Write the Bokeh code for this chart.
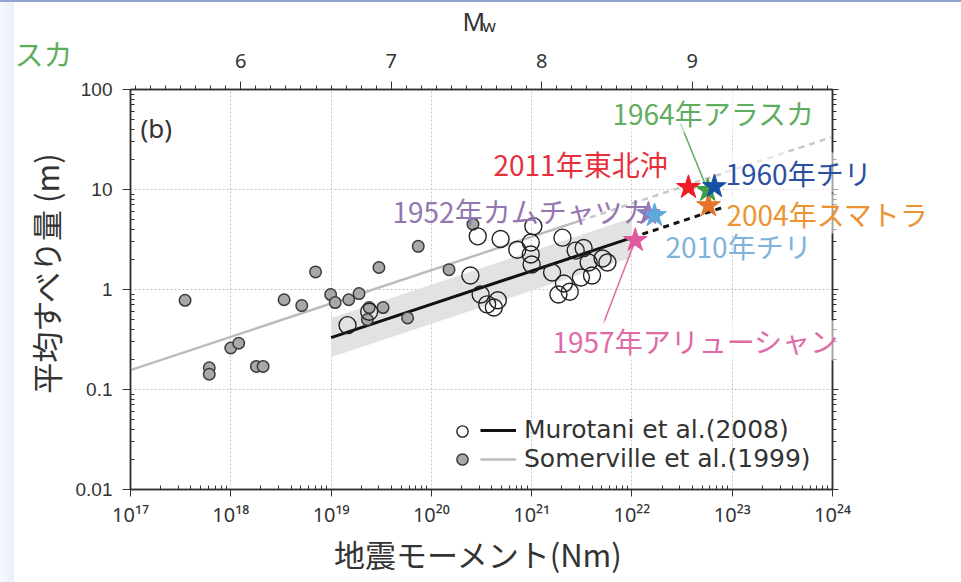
import math
from bokeh.plotting import figure
from bokeh.models import (LogAxis, LinearAxis, Range1d, LinearScale, SingleIntervalTicker,
                          FixedTicker, Label, Legend, LegendItem, Div, CustomJSTickFormatter)
from bokeh.layouts import row, column
from bokeh.embed import file_html
from bokeh.resources import INLINE

JP = "Noto Sans CJK JP"
LAT = "Noto Sans"
INK = "#333333"

# Somerville et al. (1999): seismic moment (N m) and average slip (m)
som_m0 = [3.5e17, 6.1e17, 6.1e17, 1.0e18, 1.2e18, 1.8e18, 2.1e18, 3.4e18, 5.1e18, 7.0e18,
          9.9e18, 1.1e19, 1.5e19, 1.9e19, 2.4e19, 2.3e19, 3.3e19, 3.0e19, 5.8e19, 7.4e19,
          1.5e20, 2.6e20]
som_slip = [0.78, 0.165, 0.142, 0.26, 0.29, 0.17, 0.17, 0.79, 0.69, 1.5,
            0.89, 0.74, 0.79, 0.91, 0.66, 0.50, 0.66, 1.66, 0.52, 2.7,
            1.58, 4.5]

# Murotani et al. (2008): seismic moment (N m) and average slip (m)
mur_m0 = [1.46e19, 2.4e19, 2.45e20, 2.9e20, 4.9e20, 7.2e20, 9.8e20, 9.8e20, 1.04e21, 1.0e21,
          2.03e21, 1.6e21, 3.1e20, 3.6e20, 4.2e20, 4.6e20, 1.85e21, 2.4e21, 2.1e21, 3.1e21,
          2.75e21, 3.3e21, 3.7e21, 4.0e21, 5.1e21, 5.7e21]
mur_slip = [0.44, 0.60, 1.38, 3.4, 3.2, 2.5, 2.95, 2.24, 4.3, 1.78,
            3.3, 1.48, 0.89, 0.71, 0.66, 0.78, 0.89, 0.95, 1.15, 1.32,
            2.45, 2.6, 1.86, 1.38, 2.04, 1.86]

# scaling relations (end points of straight lines in log-log space)
mur_fit_m0 = [1e19, 1e22]
mur_fit_slip = [0.33, 3.3]
mur_band_low = [0.21, 2.1]
mur_band_high = [0.52, 5.2]
mur_ext_m0 = [1e22, 8e22]
mur_ext_slip = [3.3, 6.6]
som_fit_m0 = [1e17, 3e21]
som_fit_slip = [0.156, 4.85]
som_ext_m0 = [3e21, 1e24]
som_ext_slip = [4.85, 33.6]

# great earthquakes (drawing order: back to front)
eq_name = ["1952年カムチャツカ", "2010年チリ", "1957年アリューシャン", "2004年スマトラ",
           "2011年東北沖", "1964年アラスカ", "1960年チリ"]
eq_m0 = [1.46e22, 1.68e22, 1.08e22, 5.8e22, 3.66e22, 5.7e22, 6.65e22]
eq_slip = [5.75, 5.5, 3.1, 6.9, 10.5, 9.8, 10.7]
eq_star_color = ["#9b7bbf", "#5da8de", "#e0589e", "#e57428", "#ee1c25", "#3f9f45", "#1651a6"]
eq_text_color = ["#9577b0", "#7fb3db", "#e06aa6", "#ec9433", "#e8303a", "#5fae5f", "#2c50a0"]
# where each name is written: canvas pixels (left edge, vertical middle, from top-left)
eq_label_px = [(378, 208), (651, 243), (538, 338), (712, 211), (479, 161), (598, 110), (711, 170)]
eq_label_bg = [False, False, True, True, False, True, True]
# leader lines: event index -> point near its name (data units)
leader_end = {5: (3.05e22, 45.7), 2: (5.2e21, 0.457)}

x_ticks = [10.0 ** k for k in range(17, 25)]
y_ticks = [10.0 ** k for k in range(-2, 3)]

p = figure(x_axis_type="log", y_axis_type="log",
           x_range=Range1d(1e17, 1e24), y_range=Range1d(0.01, 100),
           frame_width=702, frame_height=400,
           min_border_left=116, min_border_right=120, min_border_top=87, min_border_bottom=93,
           output_backend="svg", toolbar_location=None,
           background_fill_color="white", border_fill_color="white")
p.outline_line_color = INK
p.outline_line_width = 1.5

xticker = FixedTicker(ticks=x_ticks,
                      minor_ticks=[m * t for t in x_ticks[:-1] for m in range(2, 10)])
yticker = FixedTicker(ticks=y_ticks,
                      minor_ticks=[m * t for t in y_ticks[:-1] for m in range(2, 10)])

pow_fmt = CustomJSTickFormatter(code="""
const e = Math.round(Math.log10(tick));
const s = {"0":"\u2070","1":"\u00b9","2":"\u00b2","3":"\u00b3","4":"\u2074","5":"\u2075",
           "6":"\u2076","7":"\u2077","8":"\u2078","9":"\u2079","-":"\u207b"};
return "10" + String(e).split("").map(c => s[c]).join("");
""")
dec_fmt = CustomJSTickFormatter(code="""
const e = Math.round(Math.log10(tick));
if (e >= 0) return String(Math.pow(10, e));
return "0." + "0".repeat(-e - 1) + "1";
""")


def style_axis(ax, font=LAT, size="20px"):
    ax.axis_line_color = INK
    ax.axis_line_width = 1.5
    ax.major_tick_line_color = INK
    ax.minor_tick_line_color = INK
    ax.major_label_text_color = INK
    ax.major_label_text_font = font
    ax.major_label_text_font_size = size


xa = p.below[0]
xa.ticker = xticker
xa.formatter = pow_fmt
style_axis(xa)
xa.major_tick_out = 7
xa.major_tick_in = 0
xa.minor_tick_out = 0
xa.minor_tick_in = 4
xa.major_label_standoff = 4

ya = p.left[0]
ya.ticker = yticker
ya.formatter = dec_fmt
style_axis(ya, font="Liberation Sans", size="19px")
ya.major_tick_out = 8
ya.major_tick_in = 0
ya.minor_tick_out = 0
ya.minor_tick_in = 4
ya.major_label_standoff = 10

# moment magnitude on top: Mw = (log10 M0 - 9.1) / 1.5
p.extra_x_ranges = {"mw": Range1d((17 - 9.1) / 1.5, (24 - 9.1) / 1.5)}
p.extra_x_scales = {"mw": LinearScale()}
top = LinearAxis(x_range_name="mw", ticker=SingleIntervalTicker(interval=1, num_minor_ticks=10))
style_axis(top)
top.major_tick_out = 8
top.major_tick_in = 0
top.minor_tick_out = 4
top.minor_tick_in = 0
top.major_label_standoff = 14
p.add_layout(top, "above")

right = LogAxis(ticker=yticker, formatter=CustomJSTickFormatter(code="return '';"))
style_axis(right)
right.major_tick_out = 6
right.major_tick_in = 0
right.minor_tick_out = 4
right.minor_tick_in = 0
p.add_layout(right, "right")

for g in (p.xgrid[0], p.ygrid[0]):
    g.grid_line_color = "#c4c4c4"
    g.grid_line_dash = "2 2"
    g.grid_line_width = 1

# scaling relations
p.varea(x=mur_fit_m0, y1=mur_band_low, y2=mur_band_high, fill_color="#e2e2e2")
som_line = p.line(som_fit_m0, som_fit_slip, line_color="#bcbcbc", line_width=2.5)
p.line(som_ext_m0, som_ext_slip, line_color="#c8c8c8", line_width=2.5, line_dash="6 5")
mur_line = p.line(mur_fit_m0, mur_fit_slip, line_color="#111111", line_width=3)
p.line(mur_ext_m0, mur_ext_slip, line_color="#111111", line_width=3, line_dash="6 5")

# events
som_pts = p.scatter(som_m0, som_slip, size=11.5, fill_color="#a8a8a8",
                    line_color="#3a3a3a", line_width=1.5)
mur_pts = p.scatter(mur_m0, mur_slip, size=17, fill_color=None,
                    line_color="#222222", line_width=1.4)

for i, (lx, ly) in leader_end.items():
    p.line([eq_m0[i], lx], [eq_slip[i], ly], line_color=eq_text_color[i], line_width=1.5)

for i in range(len(eq_name)):
    p.scatter([eq_m0[i]], [eq_slip[i]], marker="star", size=25,
              fill_color=eq_star_color[i], line_color=eq_star_color[i], line_width=1)


def canvas_label(x, y, text, **kw):
    # placed in a side panel so the text may run outside the data frame
    lab = Label(x=x, y=y, x_units="canvas", y_units="canvas", text=text,
                text_baseline="middle", **kw)
    p.add_layout(lab, "right")
    return lab


for i in range(len(eq_name)):
    lx, ly = eq_label_px[i]
    lab = canvas_label(lx, ly, eq_name[i], text_font=JP, text_font_size="28px",
                       text_color=eq_text_color[i], text_align="left")
    if eq_label_bg[i]:
        lab.background_fill_color = "white"
        lab.background_fill_alpha = 0.55

# panel letter, magnitude title, axis titles, stray caption fragment
canvas_label(126, 125, "(b)", text_font=LAT, text_font_size="26px", text_color=INK)
canvas_label(448, 18, "M", text_font=LAT, text_font_size="25px", text_color=INK)
canvas_label(468, 23, "w", text_font=LAT, text_font_size="17px", text_color=INK)
canvas_label(31, 270, "平均すべり量 (m)", angle=math.pi / 2, text_font=JP,
             text_font_size="31px", text_color=INK, text_align="center")
canvas_label(464, 551, "地震モーメント(Nm)", text_font=JP, text_font_size="31px",
             text_color=INK, text_align="center")
canvas_label(0, 50, "スカ", text_font=JP, text_font_size="29px", text_color="#5fae5f")

# legend: symbols column, then line + text column
common = dict(background_fill_alpha=0, border_line_color=None, padding=0, margin=0,
              spacing=-5, glyph_height=28, label_height=28,
              label_text_font="DejaVu Sans", label_text_font_size="25px",
              label_text_color=INK)
leg_sym = Legend(items=[LegendItem(label=" ", renderers=[mur_pts]),
                        LegendItem(label=" ", renderers=[som_pts])],
                 location=(318, 16), glyph_width=28, label_standoff=0, **common)
leg_txt = Legend(items=[LegendItem(label="Murotani et al.(2008)", renderers=[mur_line]),
                        LegendItem(label="Somerville et al.(1999)", renderers=[som_line])],
                 location=(350, 16), glyph_width=36, label_standoff=8, **common)
p.add_layout(leg_sym)
p.add_layout(leg_txt)

top_bar = Div(text="", width=961, height=2, margin=0,
              styles={"background-color": "#93a3d4"})
left_bar = Div(text="", width=14, height=580, margin=0,
               styles={"background": "linear-gradient(to right, #f6f9fd, #e8f0fa)"})
right_bar = Div(text="", width=9, height=580, margin=0,
                styles={"background-color": "#c3e0f8"})

page = column(top_bar, row(left_bar, p, right_bar, spacing=0), spacing=0)

open("out.html", "w").write(file_html(page, INLINE))
